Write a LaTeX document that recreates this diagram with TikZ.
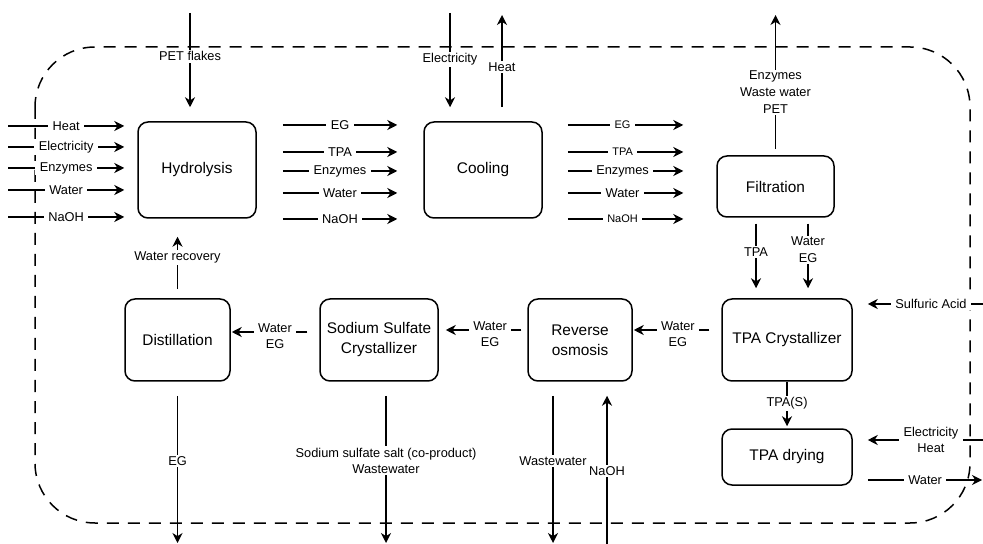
\documentclass[tikz,border=0pt]{standalone}
\usepackage{fontspec}
\setmainfont{Liberation Sans}
\usetikzlibrary{arrows.meta}
\begin{document}
\begin{tikzpicture}[x=0.5pt,y=-0.5pt,
  box/.style={draw,line width=0.75pt,rounded corners=5pt,align=center,font=\fontsize{7.7}{10}\selectfont,inner sep=0pt},
  flow/.style={line width=0.75pt,-{Stealth[length=5pt,width=5pt,inset=1.6pt]}},
  lbl/.style={fill=white,inner xsep=2.2pt,inner ysep=0.8pt,align=center,font=\fontsize{6.4}{8.3}\selectfont},
  slbl/.style={lbl,font=\fontsize{5.5}{6.5}\selectfont},
  bound/.style={line width=0.75pt,dash pattern=on 6pt off 4.5pt,rounded corners=30pt}
]
\useasboundingbox (0,0) rectangle (983,544);
% system boundary
\draw[bound] (35,47) rectangle (970,523);

% process boxes
\node[box,minimum width=59pt,minimum height=48pt] (hyd) at (197,170) {Hydrolysis};
\node[box,minimum width=59pt,minimum height=48pt] (cool) at (483,170) {Cooling};
\node[box,minimum width=58.5pt,minimum height=30.5pt] (filt) at (775.5,186.5) {Filtration};
\node[box,minimum width=65pt,minimum height=41pt] (tpac) at (787,340) {TPA Crystallizer};
\node[box,minimum width=52pt,minimum height=41pt] (ro) at (580,340) {Reverse\\osmosis};
\node[box,minimum width=59pt,minimum height=41pt] (sod) at (379,340) {Sodium Sulfate\\Crystallizer};
\node[box,minimum width=52.5pt,minimum height=41pt] (dist) at (177.5,340) {Distillation};
\node[box,minimum width=65pt,minimum height=28pt] (dry) at (787,457) {TPA drying};

% inputs to hydrolysis
\foreach \y/\t [count=\i] in {126/Heat,147/Electricity,168/Enzymes,190/Water,217/NaOH}{
  \coordinate (in\i) at (8,\y);
  \draw[flow,shorten >=6.5pt] (in\i) -- node[lbl,pos=0.45]{\t} (in\i -| hyd.west);
}
\coordinate (pet) at (190,13);
\draw[flow,shorten >=7pt] (pet) -- node[lbl,pos=0.40]{PET flakes} (pet |- hyd.north);

% hydrolysis -> cooling
\foreach \y/\t [count=\i] in {125/EG,152/TPA,171/Enzymes,193/Water,219/NaOH}{
  \coordinate (hc\i) at (0,\y);
  \draw[flow,shorten <=13pt,shorten >=13pt] (hyd.east |- hc\i) -- node[lbl]{\t} (cool.west |- hc\i);
}
\coordinate (elc) at (450,13);
\draw[flow,shorten >=7pt] (elc) -- node[lbl,pos=0.43]{Electricity} (elc |- cool.north);
\coordinate (heo) at (502,15);
\draw[flow,shorten <=7pt] (heo |- cool.north) -- node[lbl,pos=0.51]{Heat} (heo);

% cooling -> filtration
\foreach \y/\t/\s [count=\i] in {125/EG/slbl,152/TPA/slbl,171/Enzymes/lbl,193/Water/lbl,219/NaOH/slbl}{
  \coordinate (cf\i) at (0,\y);
  \draw[flow,shorten <=12.5pt,shorten >=16.5pt] (cool.east |- cf\i) -- node[\s,pos=0.46]{\t} (filt.west |- cf\i);
}
\coordinate (fo) at (775.5,15);
\draw[flow,shorten <=3pt] (filt.north) -- node[lbl,pos=0.45]{Enzymes\\Waste water\\PET} (fo);

% filtration -> TPA crystallizer
\coordinate (ft1) at (756,0);
\coordinate (ft2) at (808,0);
\draw[flow,shorten <=3pt,shorten >=5pt] (ft1 |- filt.south) -- node[lbl,pos=0.43]{TPA} (ft1 |- tpac.north);
\draw[flow,shorten <=3pt,shorten >=5pt] (ft2 |- filt.south) -- node[lbl,pos=0.40]{Water\\EG} (ft2 |- tpac.north);

% bottom row chain
\coordinate (r1) at (0,330);
\coordinate (r2) at (0,332);
\draw[flow,shorten <=6pt,shorten >=0.5pt] (tpac.west |- r1) -- node[lbl,pos=0.49,yshift=-2pt]{Water\\EG} (ro.east |- r1);
\draw[flow,shorten <=3pt,shorten >=3.5pt] (ro.west |- r1) -- node[lbl,pos=0.42,yshift=-2pt]{Water\\EG} (sod.east |- r1);
\draw[flow,shorten <=6pt,shorten >=0.5pt] (sod.west |- r2) -- node[lbl,pos=0.5,yshift=-2pt]{Water\\EG} (dist.east |- r2);

% distillation
\draw[flow,shorten <=4.5pt,shorten >=9pt] (dist.north) -- node[lbl,pos=0.51]{Water recovery} (dist.north |- hyd.south);
\coordinate (eg) at (177.5,543);
\draw[flow,shorten <=7pt] (dist.south) -- node[lbl,pos=0.49]{EG} (eg);

% sodium sulfate crystallizer
\coordinate (sb) at (386,543);
\draw[flow,shorten <=7pt] (sb |- sod.south) -- node[lbl,pos=0.49]{Sodium sulfate salt (co-product)\\Wastewater} (sb);

% reverse osmosis
\coordinate (rw) at (553,543);
\draw[flow,shorten <=7pt] (rw |- ro.south) -- node[lbl,pos=0.49]{Wastewater} (rw);
\coordinate (rn) at (607,544);
\draw[flow,shorten >=7pt] (rn) -- node[lbl,pos=0.45]{NaOH} (rn |- ro.south);

% TPA crystallizer / drying
\draw[flow,shorten >=1pt] (tpac.south) -- node[lbl,pos=0.46]{TPA(S)} (dry.north);
\coordinate (sa) at (983,304);
\draw[flow,shorten >=7.5pt] (sa) -- node[lbl,pos=0.40]{Sulfuric Acid} (sa -| tpac.east);
\coordinate (eh) at (983,440);
\draw[flow,shorten >=7.5pt] (eh) -- node[lbl,pos=0.40]{Electricity\\Heat} (eh -| dry.east);
\coordinate (wo) at (982,480);
\draw[flow,shorten <=7.5pt] (wo -| dry.east) -- node[lbl,pos=0.56]{Water} (wo);
\end{tikzpicture}
\end{document}
